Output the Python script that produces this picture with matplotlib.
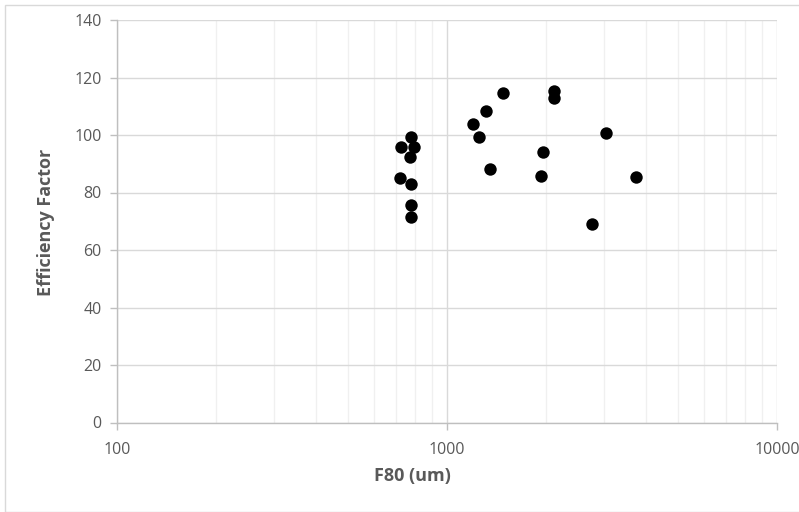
import matplotlib
matplotlib.use('Agg')
import matplotlib.pyplot as plt
from matplotlib.patches import Rectangle
from matplotlib.ticker import LogLocator, FixedLocator, NullFormatter, FuncFormatter

# F80 particle size (um) vs efficiency factor
f80 = [776, 725, 794, 773, 722, 778, 778, 778,
       1202, 1247, 1310, 1475, 1350,
       2110, 2110, 1954, 1927,
       3033, 3746, 2756]
efficiency = [99.2, 95.7, 95.7, 92.5, 84.9, 83.0, 75.7, 71.4,
              103.7, 99.3, 108.5, 114.6, 88.2,
              115.4, 112.8, 94.2, 85.6,
              100.8, 85.3, 68.9]

x_ticks = [100, 1000, 10000]
y_ticks = [0, 20, 40, 60, 80, 100, 120, 140]

plt.rcParams['font.family'] = ['Open Sans', 'DejaVu Sans']

W, H = 799, 512
fig = plt.figure(figsize=(W / 100, H / 100), dpi=100)
fig.patches.append(Rectangle((5 / W, 0.0), 1.0, 1 - 5 / H, transform=fig.transFigure,
                             fill=False, edgecolor='#d9d9d9', linewidth=1.0))
ax = fig.add_axes([117 / W, (H - 422.5) / H, 660 / W, 402.5 / H])

ax.scatter(f80, efficiency, s=80, color='black', zorder=3, linewidths=0)

ax.set_xscale('log')
ax.set_xlim(100, 10000)
ax.set_ylim(0, 140)
ax.xaxis.set_major_locator(FixedLocator(x_ticks))
ax.xaxis.set_major_formatter(FuncFormatter(lambda v, p: '%d' % v))
ax.xaxis.set_minor_locator(LogLocator(base=10, subs=range(2, 10)))
ax.xaxis.set_minor_formatter(NullFormatter())
ax.yaxis.set_major_locator(FixedLocator(y_ticks))

ax.grid(which='major', axis='both', color='#d9d9d9', linewidth=1.0, zorder=0)
ax.grid(which='minor', axis='x', color='#f0f0f0', linewidth=1.0, zorder=0)
ax.set_axisbelow(True)

for side in ['top', 'right']:
    ax.spines[side].set_visible(False)
for side in ['left', 'bottom']:
    ax.spines[side].set_color('#bfbfbf')
    ax.spines[side].set_linewidth(1.0)

ax.tick_params(axis='both', which='major', direction='out', length=5, width=1.0,
               color='#bfbfbf', labelcolor='#595959', labelsize=11.5)
ax.tick_params(axis='y', pad=6)
ax.tick_params(axis='x', pad=9)
ax.tick_params(axis='x', which='minor', length=0)

# axis titles placed like the spreadsheet layout
fig.text(412 / W, 1 - 476 / H, 'F80 (um)', fontsize=13, fontweight='bold',
         color='#595959', ha='center', va='center')
fig.text(46 / W, 1 - 222 / H, 'Efficiency Factor', fontsize=13, fontweight='bold',
         color='#595959', ha='center', va='center', rotation=90)

fig.savefig('out.png', dpi=100)
